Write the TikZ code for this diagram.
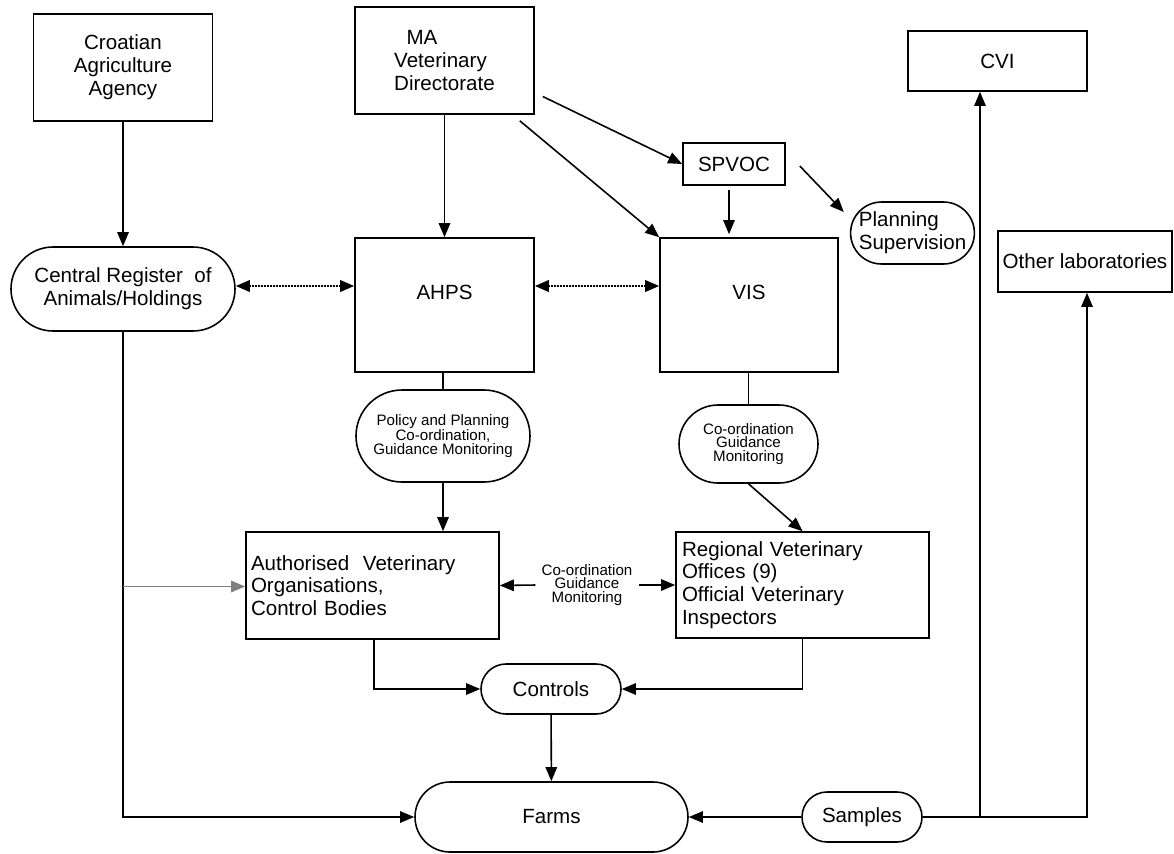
\documentclass[tikz,border=0pt]{standalone}
\usepackage{fontspec}
\setmainfont{Liberation Sans}
\usetikzlibrary{arrows.meta,shapes.misc}
\newlength{\px}\setlength{\px}{0.02cm}
\tikzset{
  box/.style={draw, line width=0.9pt, align=center, inner sep=0pt,
    font=\fontsize{11.7}{13}\selectfont},
  pill/.style={box, rounded rectangle},
  small/.style={font=\fontsize{8.6}{7.8}\selectfont},
  arr/.style={line width=0.9pt, -{Triangle[length=8pt,width=6.5pt]}},
  dots/.style={line width=1.4pt, dash pattern=on 1pt off 0.7pt,
    {Triangle[length=8pt,width=6.5pt]}-{Triangle[length=8pt,width=6.5pt]}},
}
\begin{document}
\begin{tikzpicture}[x=1\px,y=-1\px]
  \useasboundingbox (0,0) rectangle (1174,853);
  % top row
  \node[box, minimum width=179\px, minimum height=107\px] (croatian) at (123,67.5)
    {Croatian\\Agriculture\\Agency};
  \node[box, align=left, minimum width=179\px, minimum height=107\px] (ma) at (444.5,60.5)
    {\hspace*{7pt}MA\\Veterinary\\Directorate};
  \node[box, minimum width=102\px, minimum height=42\px] (spvoc) at (734,164) {SPVOC};
  \node[pill, align=left, minimum width=123\px, minimum height=62\px] (planning) at (912.5,233)
    {Planning\\Supervision};
  \node[box, minimum width=179\px, minimum height=60\px] (cvi) at (997.5,61) {CVI};
  \node[box, minimum width=174\px, minimum height=61\px] (otherlab) at (1085,261.5)
    {Other laboratories};
  % middle row
  \node[pill, minimum width=224\px, minimum height=84\px] (central) at (123,289)
    {Central Register~ of\\Animals/Holdings};
  \node[box, text width=179\px, text height=61\px, text depth=73\px, anchor=base]
    (ahps) at (444.5,299) {AHPS};
  \node[box, text width=178\px, text height=61\px, text depth=73\px, anchor=base]
    (vis) at (749,299) {VIS};
  \node[pill, small, minimum width=174\px, minimum height=92\px] (policy) at (443,436)
    {Policy and Planning\\Co-ordination,\\Guidance Monitoring};
  \node[pill, small, minimum width=139\px, minimum height=78\px] (coord) at (748.5,444)
    {Co-ordination\\Guidance\\Monitoring};
  \node[box, align=left, text width=243\px, inner xsep=5\px, minimum height=107\px]
    (authorised) at (372.5,585.5) {Authorised~ Veterinary\\Organisations,\\Control Bodies};
  \node[box, align=left, text width=241\px, inner xsep=6\px, minimum height=106\px]
    (regional) at (802.5,585) {Regional Veterinary\\Offices (9)\\Official Veterinary\\Inspectors};
  \node[small, align=center] (mid) at (587,585) {Co-ordination\\Guidance\\Monitoring};
  % bottom row
  \node[pill, minimum width=140\px, minimum height=50\px] (controls) at (551,689) {Controls};
  \node[pill, minimum width=273\px, minimum height=70\px] (farms) at (551.5,817) {Farms};
  \node[pill, minimum width=120\px, minimum height=50\px] (samples) at (862,817) {Samples};
  \coordinate (cvitap) at (980,817);

  \draw[arr] (croatian) -- (central);
  \draw[arr] (ma) -- (ahps);
  \draw[arr] ([shift={(8,36)}]ma.east) -- (spvoc.west);
  \draw[arr] ([shift={(-15,6)}]ma.south east) -- (vis.north west);
  \draw[arr] ([shift={(-5,4)}]spvoc.south) -- ([shift={(-5,-3)}]spvoc.south |- vis.north);
  \draw[arr] ([shift={(14,2)}]spvoc.east) -- ([shift={(-6,-21)}]planning.west);
  \draw[dots] ([yshift=3\px]central.east) -- ([yshift=3\px]central.east -| ahps.west);
  \draw[dots] ([yshift=3\px]central.east -| ahps.east) -- ([yshift=3\px]central.east -| vis.west);
  \draw[line width=0.9pt] (ahps.south -| policy.north) -- (policy.north);
  \draw[line width=0.9pt] (vis.south -| coord.north) -- (coord.north);
  \draw[arr] (policy.south) -- (policy.south |- authorised.north);
  \draw[arr] (coord.south) -- (regional.north);
  \draw[arr] (mid.west) -- (authorised.east);
  \draw[arr] (mid.east) -- (regional.west);
  \draw[arr] (central.south) |- (farms.west);
  \draw[arr, gray] ([yshift=-1\px]central.south |- authorised.west) -- ([yshift=-1\px]authorised.west);
  \draw[arr] ([xshift=1.5\px]authorised.south) |- (controls.west);
  \draw[arr] (regional.south) |- (controls.east);
  \draw[arr] (controls) -- (farms);
  \draw[arr] (samples) -- (farms);
  \draw[arr] (samples.east) -| ([xshift=2\px]otherlab.south);
  \draw[arr] (cvitap) -- (cvitap |- cvi.south);
\end{tikzpicture}
\end{document}
